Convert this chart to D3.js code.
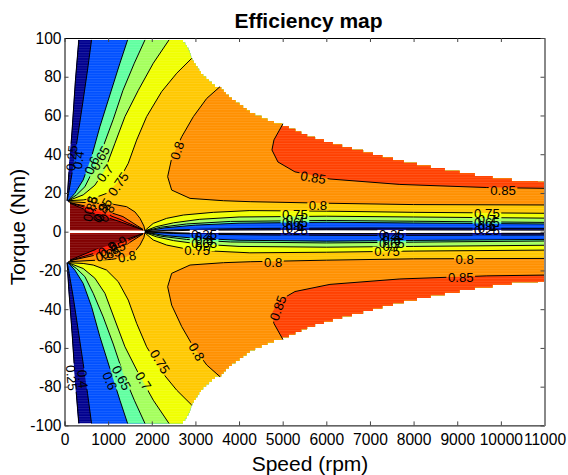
<!DOCTYPE html>
<html>
<head>
<meta charset="utf-8">
<script src="https://cdn.jsdelivr.net/npm/d3@7"></script>
<style>
  html, body { margin: 0; padding: 0; background: #fff; }
  svg { display: block; font-family: "Liberation Sans", Arial, sans-serif; }
</style>
</head>
<body>
<svg id="chart" width="568" height="475"></svg>
<script>
// values, [speed rpm, torque Nm], upper half only (map is symmetric)
const speedTicks = [0, 1000, 2000, 3000, 4000, 5000, 6000, 7000, 8000, 9000, 10000, 11000]
const torqueTicks = [-100, -80, -60, -40, -20, 0, 20, 40, 60, 80, 100]

const envelopeLeft = [[126, 0.8], [126, 14.8], [46, 16], [84, 30], [160, 52.5], [237, 78], [310, 99]]
const envelopeTop = [[2715, 99], [2790, 97], [2860, 94], [2914, 90], [3030, 86], [3150, 82], [3300, 79],
  [3450, 76], [3579, 75], [3700, 72], [3850, 69], [4050, 66], [4280, 62], [4500, 60], [4750, 57.5],
  [5006, 55.7], [5300, 53], [5600, 50], [5900, 48], [6200, 46], [6540, 43.9], [6900, 42], [7300, 39.5],
  [7755, 37], [8200, 35], [8800, 32.5], [9359, 30.3], [9900, 28.5], [10400, 27], [11000, 25.8]]
const envelopeBottom = [[11000, 0.7], [1844, 0.7]]

const left25 = [[330, 99], [250, 78], [175, 52.5], [100, 30], [60, 16]]
const left40 = [[620, 99], [528, 83.5], [428, 68], [314, 50.8], [199, 33.6], [107, 21.5], [61, 16]]
const left60 = [[1446, 99], [1270, 87], [1040, 70.6], [811, 54.2], [620, 38.7], [428, 26.7], [237, 19.8], [84, 16]]
const left65 = [[1844, 99], [1600, 87], [1340, 73], [1117, 58], [887, 44], [658, 31.8], [467, 23.2], [275, 19], [84, 16]]
const left70 = [[2395, 99], [2035, 87], [1691, 73], [1385, 59.4], [1155, 45.6], [926, 31.8], [696, 24], [428, 19], [84, 16]]
const left75 = [[2915, 89.5], [2571, 81.8], [2226, 72.3], [1882, 59.4], [1653, 47.3], [1461, 35.3], [1232, 25.8],
  [964, 19.8], [658, 17.2], [428, 16.4], [84, 16]]

const right25 = [[1844, 0.1], [3000, 0.8], [6000, 1], [11000, 0.8]]
const right40 = [[1844, 0.1], [2500, 0.9], [3200, 1.3], [4500, 1.7], [7000, 1.9], [11000, 1.7]]
const right60 = [[1844, 0.2], [2300, 2], [3000, 3.4], [4000, 4.4], [6000, 4.9], [8000, 4.5], [11000, 4]]
const right65 = [[1844, 0.3], [2200, 2.3], [2800, 4], [3800, 5.3], [6000, 5.8], [8000, 5.4], [11000, 4.8]]
const right70 = [[1844, 0.4], [2100, 2.6], [2500, 4.6], [3100, 6.4], [4000, 7.6], [6000, 8], [8000, 7.6], [11000, 7]]
const right75 = [[1844, 0.6], [2034, 4.3], [2341, 6.9], [2722, 8.6], [3408, 10], [4248, 10.9], [6000, 10.6], [8000, 10], [11000, 9.5]]

const contour80 = [[3565, 74.9], [3259, 68.8], [2953, 59.4], [2686, 49], [2456, 37.9], [2364, 28.4], [2456, 21.5],
  [2877, 17.2], [3642, 16], [4254, 15.5], [6000, 14.7], [8000, 14], [11000, 13.8]]
const contour85 = [[5006, 55.7], [4800, 47.4], [4754, 42.2], [4891, 36], [5281, 30.9], [6083, 27.2], [7686, 24.4],
  [9679, 22.8], [11000, 22.4]]

// wedge below the corner point, top edges of the higher levels
const wedge80 = [[87, 15.5], [1081, 14.3], [1425, 12.9], [1615, 10.2], [1730, 6.9], [1821, 2.9], [1844, 0.3]]
const wedge85 = [[126, 15], [882, 11.2], [1340, 7.8], [1798, 1.2]]
const wedge90 = [[126, 14.9], [813, 10.3], [1271, 6.4], [1798, 1]]
const wedge95 = [[126, 14.7], [653, 9.7], [1271, 5.2], [1798, 0.9]]

// text, speed, torque, rotation
const contourLabels = [
  ['0.8', 2580, 41.9, -72], ['0.85', 5700, 28, 10], ['0.85', 10050, 21.4, 0], ['0.8', 5810, 13.6, 0],
  ['0.75', 5280, 9, 0], ['0.7', 5280, 6.4, 0], ['0.65', 5280, 4.8, 0], ['0.6', 5280, 3.2, 0], ['0.4', 5280, 1.8, 0], ['0.25', 5280, 0.6, 0],
  ['0.75', 9680, 9.3, 0], ['0.7', 9680, 6.6, 0], ['0.65', 9680, 5, 0], ['0.6', 9680, 3.2, 0], ['0.4', 9680, 1.9, 0], ['0.25', 9680, 0.5, 0],
  ['0.75', 1232, 24.6, -55], ['0.7', 926, 30.2, -52], ['0.65', 813, 38, -60], ['0.6', 623, 34.2, -65], ['0.4', 316, 37, -82], ['0.25', 165, 38, -85],
  ['0.8', 586, 13.7, -75], ['0.85', 590, 11.8, -75], ['0.85', 860, 11, -60], ['0.9', 840, 10, -70], ['0.8', 970, 9.5, -60],
  ['0.25', 3200, -1.3, 0], ['0.4', 3200, -2.3, 0], ['0.6', 3200, -4.4, 0], ['0.65', 3200, -5.9, 0], ['0.7', 3200, -7.5, 0], ['0.75', 3040, -9.5, 0],
  ['0.25', 7500, -1.3, 0], ['0.4', 7500, -2.3, 0], ['0.6', 7500, -4.4, 0], ['0.65', 7500, -5.9, 0], ['0.7', 7500, -7.5, 0], ['0.75', 7390, -10.3, 0],
  ['0.8', 4780, -15.7, 0], ['0.8', 9170, -14.2, 0], ['0.85', 9080, -23.5, 0], ['0.85', 4890, -39.4, -70],
  ['0.8', 3030, -62, 60], ['0.75', 2188, -67, 58], ['0.7', 1806, -77, 58], ['0.65', 1308, -75.5, 62], ['0.6', 1040, -77, 68],
  ['0.4', 420, -76, 85], ['0.25', 165, -75.5, 85],
  ['0.9', 975, -8.9, -30], ['0.85', 1110, -9.4, -25], ['0.9', 1225, -6.1, -30], ['0.85', 1000, -11.5, -15], ['0.8', 1430, -12.8, -10]
]

const navy = '#00008f'
const blue = '#0050ff'
const sea = '#60ffa0'
const lime = '#a4ff5c'
const yellow = '#f0ff00'
const gold = '#ffc800'
const orange = '#ff9000'
const redOrange = '#ff4000'
const red = '#ff1400'
const darkRed = '#800000'

const svg = d3.select('#chart')
const x = d3.scaleLinear().domain([0, 11000]).range([64.5, 544.5])
const y = d3.scaleLinear().domain([-100, 100]).range([425.4, 38])

// polygon of everything above a level, the clip trims it to the envelope
const open = (left, right) => left.concat(right, [[11000, 120], [left[0][0], 120]])
const bands = [
  { color: blue, pts: open(left40, right40) },
  { color: sea, pts: open(left60, right60) },
  { color: lime, pts: open(left65, right65) },
  { color: yellow, pts: open(left70, right70) },
  { color: gold, pts: open(left75, right75) },
  { color: orange, pts: open(contour80, []) },
  { color: redOrange, pts: open(contour85, []) },
  { color: orange, pts: wedge80.concat([[126, 0.8]]) },
  { color: redOrange, pts: wedge85.concat([[1844, 0.5], [126, 0.8]]) },
  { color: red, pts: wedge90.concat([[1844, 0.5], [126, 0.8]]) },
  { color: darkRed, pts: wedge95.concat([[1844, 0.5], [126, 0.8]]) }
]
const lines = [left25, left40, left60, left65, left70, left75, right25, right40, right60, right65, right70, right75,
  contour80, contour85, wedge80, wedge85, wedge90, wedge95]

const defs = svg.append('defs')

const half = [
  { id: 'upper', sign: 1 },
  { id: 'lower', sign: -1 }
]

// the top of the map ends in one step per raster row
const rowHeight = 1.35
const edgeSpeed = d3.scaleLinear().domain(envelopeTop.map(d => d[1])).range(envelopeTop.map(d => d[0]))
const rows = d3.range(99, 25.8, -rowHeight)
const stairs = rows.map(t => [edgeSpeed(t), t]).concat([[11000, 25.8]])

half.forEach(h => {
  const path = d3.line().x(d => x(d[0])).y(d => y(h.sign * d[1]))
  const edge = d3.line().x(d => x(d[0])).y(d => y(h.sign * d[1])).curve(d3.curveStepBefore)
  const outline = path(envelopeLeft) + edge(stairs).replace('M', 'L') + path(envelopeBottom).replace('M', 'L') + 'Z'

  defs.append('clipPath').attr('id', 'clip-' + h.id).append('path').attr('d', outline)

  const g = svg.append('g').attr('clip-path', `url(#clip-${h.id})`)
  g.append('path').attr('d', outline).attr('fill', navy)
  g.selectAll('path.band')
    .data(bands)
    .enter()
    .append('path')
    .attr('class', 'band')
    .attr('d', d => path(d.pts))
    .attr('fill', d => d.color)
})

// faint rows the original raster left in the fill
const stripes = defs.append('pattern')
  .attr('id', 'rows')
  .attr('patternUnits', 'userSpaceOnUse')
  .attr('width', 10)
  .attr('height', 2.6)
stripes.append('rect').attr('width', 10).attr('height', 0.9).attr('fill', '#fff').attr('opacity', 0.12)

half.forEach(h => {
  svg.append('g')
    .attr('clip-path', `url(#clip-${h.id})`)
    .append('rect')
    .attr('x', x(0))
    .attr('y', y(100))
    .attr('width', x(11000) - x(0))
    .attr('height', y(-100) - y(100))
    .attr('fill', 'url(#rows)')
})

// contour lines, broken under their labels
const mask = defs.append('mask')
  .attr('id', 'gaps')
  .attr('maskUnits', 'userSpaceOnUse')
  .attr('x', 0).attr('y', 0).attr('width', 568).attr('height', 475)
mask.append('rect').attr('width', 568).attr('height', 475).attr('fill', '#fff')

defs.append('clipPath').attr('id', 'plot').append('rect')
  .attr('x', x(0)).attr('y', y(100)).attr('width', x(11000) - x(0)).attr('height', y(-100) - y(100))

const lineLayer = svg.append('g').attr('clip-path', 'url(#plot)').append('g').attr('mask', 'url(#gaps)')
half.forEach(h => {
  const path = d3.line().x(d => x(d[0])).y(d => y(h.sign * d[1]))
  lineLayer.selectAll('path.c-' + h.id)
    .data(lines)
    .enter()
    .append('path')
    .attr('class', 'c-' + h.id)
    .attr('d', d => path(d))
    .attr('fill', 'none')
    .attr('stroke', '#000')
    .attr('stroke-width', 1)
})

const labels = svg.append('g')
  .selectAll('text')
  .data(contourLabels)
  .enter()
  .append('text')
  .attr('transform', d => `translate(${x(d[1])},${y(d[2])}) rotate(${d[3]})`)
  .attr('text-anchor', 'middle')
  .attr('dy', '0.36em')
  .attr('font-size', 13.2)
  .attr('fill', '#000')
  .text(d => d[0])

labels.each(function(d) {
  const w = this.getComputedTextLength() + 3
  mask.append('rect')
    .attr('transform', `translate(${x(d[1])},${y(d[2])}) rotate(${d[3]})`)
    .attr('x', -w / 2)
    .attr('y', -5)
    .attr('width', w)
    .attr('height', 10)
    .attr('fill', '#000')
})

// axes, ticks point inward on all four sides
const bottomAxis = d3.axisBottom(x).tickValues(speedTicks).tickFormat(d => d).tickSizeInner(-4).tickSizeOuter(0).tickPadding(9)
const leftAxis = d3.axisLeft(y).tickValues(torqueTicks).tickFormat(d => d).tickSizeInner(-4).tickSizeOuter(0).tickPadding(3)
const topAxis = d3.axisTop(x).tickValues(speedTicks).tickFormat('').tickSizeInner(-4).tickSizeOuter(0)
const rightAxis = d3.axisRight(y).tickValues(torqueTicks).tickFormat('').tickSizeInner(-4).tickSizeOuter(0)

svg.append('g').attr('transform', `translate(0,${y(-100)})`).call(bottomAxis)
svg.append('g').attr('transform', `translate(${x(0)},0)`).call(leftAxis)
svg.append('g').attr('transform', `translate(0,${y(100)})`).call(topAxis)
const rightG = svg.append('g').attr('transform', `translate(${x(11000)},0)`).call(rightAxis)
rightG.select('.domain').attr('stroke', '#888').attr('stroke-width', 2)

svg.selectAll('.tick line').attr('stroke', '#444')
svg.selectAll('.tick text').attr('font-size', 15.6).attr('font-family', '"Liberation Sans", Arial, sans-serif').attr('fill', '#000')

svg.append('text')
  .attr('x', 308.5).attr('y', 28)
  .attr('text-anchor', 'middle')
  .attr('font-size', 21)
  .attr('font-weight', 'bold')
  .text('Efficiency map')

svg.append('text')
  .attr('x', 310).attr('y', 471)
  .attr('text-anchor', 'middle')
  .attr('font-size', 21)
  .text('Speed (rpm)')

svg.append('text')
  .attr('transform', `translate(25,227) rotate(-90)`)
  .attr('text-anchor', 'middle')
  .attr('font-size', 21)
  .text('Torque (Nm)')
</script>
</body>
</html>
